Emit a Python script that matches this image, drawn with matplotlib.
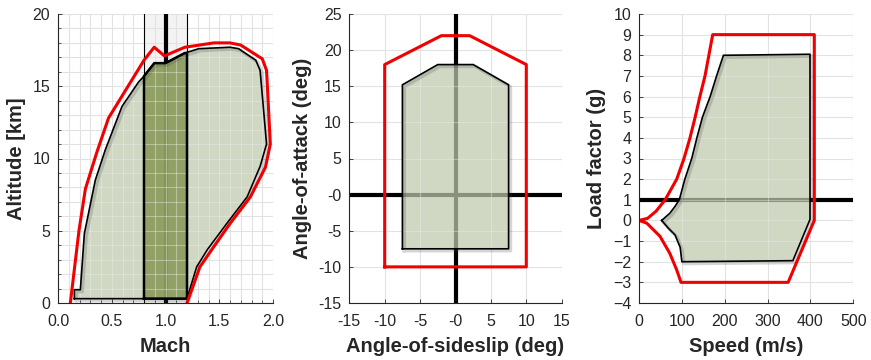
import numpy as np
import matplotlib
matplotlib.use("Agg")
import matplotlib.pyplot as plt
import matplotlib.patheffects as pe
from matplotlib.patches import Polygon

plt.rcParams['font.family'] = ['Liberation Sans', 'DejaVu Sans']

# ---------------- data ----------------
# Panel 1: Mach-altitude envelope
red1_mach = [0.115, 0.195, 0.255, 0.36, 0.47, 0.80, 0.895, 0.99, 1.18, 1.45, 1.60, 1.70,
             1.90, 1.94, 1.975, 1.93, 1.79, 1.60, 1.45, 1.32, 1.20]
red1_alt = [0.0, 5.0, 7.9, 10.4, 12.8, 16.8, 17.7, 17.1, 17.7, 18.0, 18.0, 17.85,
            16.9, 16.1, 11.0, 9.4, 7.35, 5.5, 3.9, 2.5, 0.0]
env1_mach = [0.152, 0.152, 0.208, 0.245, 0.347, 0.44, 0.595, 0.75, 0.80, 0.896, 1.0, 1.18,
             1.31, 1.60, 1.68, 1.84, 1.88, 1.94, 1.88, 1.76, 1.57, 1.39, 1.29, 1.20]
env1_alt = [0.3, 0.92, 0.92, 4.8, 8.5, 10.6, 13.6, 15.3, 15.7, 16.6, 16.6, 17.3,
            17.6, 17.7, 17.6, 16.8, 16.1, 11.0, 9.45, 7.35, 5.5, 3.7, 2.5, 0.3]
band_mach = [0.80, 0.896, 1.0, 1.18, 1.20]
band_alt = [15.7, 16.6, 16.6, 17.3, 17.3]
band_bottom = 0.3
transonic_lo, transonic_hi, mach_one = 0.8, 1.2, 1.0

# Panel 2: alpha-beta envelope
red2_beta = [-10, -10, -2, 2, 10, 10]
red2_alpha = [-10, 18, 22, 22, 18, -10]
env2_beta = [-7.5, -7.5, -2.5, 2.5, 7.5, 7.5]
env2_alpha = [-7.5, 15.2, 18, 18, 15.2, -7.5]
ab_ticks = [-15, -10, -5, 0, 5, 10, 15]
ab_xlabels = ['-15', '-10', '-5', '-0', '5', '10', '15']
aa_ticks = [-15, -10, -5, 0, 5, 10, 15, 20, 25]
aa_labels = ['-15', '-10', '-5', '-0', '5', '10', '15', '20', '25']

# Panel 3: V-n diagram
red3_speed = [0, 20, 40, 61, 88, 105, 119, 131, 142, 154, 163, 172, 409, 409, 348, 98, 88, 72, 49, 18, 0]
red3_load = [0, 0.1, 0.45, 1.0, 2.0, 3.0, 4.0, 5.0, 6.0, 7.0, 8.0, 9.0, 9.0, 0.0, -3.0, -3.0, -2.4, -1.6, -0.77, -0.13, 0]
env3_speed = [53, 72, 84, 94, 107, 123, 135, 148, 166, 181, 197, 399, 399, 359, 100, 96, 84, 68, 53]
env3_load = [0, 0.35, 0.68, 1.0, 2.0, 3.0, 4.0, 5.0, 6.0, 7.0, 8.0, 8.05, 0.05, -1.95, -2.0, -1.3, -0.7, -0.37, 0]

# ---------------- style ----------------
RED = '#f00000'
FILL = '#bfcaae'
BAND = '#83954f'
GRID = '#e2e2e2'
TXT = '#262626'
shadow = [pe.SimpleLineShadow(offset=(1.4, -1.4), shadow_color='#444444', alpha=0.22, linewidth=2.4),
          pe.Normal()]

fig = plt.figure(figsize=(8.71, 3.6), dpi=100)
ax1 = fig.add_axes([58 / 871, 57 / 360, 215 / 871, 289 / 360])
ax2 = fig.add_axes([349.3 / 871, 57 / 360, 212.4 / 871, 289 / 360])
ax3 = fig.add_axes([639 / 871, 57 / 360, 214.3 / 871, 289 / 360])


def style(ax, minor=False):
    for s in ['top', 'right']:
        ax.spines[s].set_visible(False)
    for s in ['left', 'bottom']:
        ax.spines[s].set_color(TXT)
        ax.spines[s].set_linewidth(0.8)
        ax.spines[s].set_zorder(10)
    ax.tick_params(direction='in', length=3, width=0.6, colors=TXT, labelsize=11.5,
                   top=False, right=False)
    ax.tick_params(axis='x', pad=8)
    ax.tick_params(axis='y', pad=5.5)
    ax.tick_params(which='minor', direction='in', length=2, width=0.5, colors=TXT)
    ax.set_axisbelow(True)
    ax.grid(True, which='major', color=GRID, lw=0.8, zorder=0)
    if minor:
        ax.grid(True, which='minor', color=GRID, lw=0.8, zorder=0)


def overlay_grid(ax, xs, ys, patch):
    for x in xs:
        l = ax.axvline(x, color='#ffffff', lw=0.8, alpha=0.35, zorder=3.6)
        l.set_clip_path(patch)
    for y in ys:
        l = ax.axhline(y, color='#ffffff', lw=0.8, alpha=0.35, zorder=3.6)
        l.set_clip_path(patch)


lab = dict(fontsize=14.5, fontweight='bold', color=TXT)
XLP = 5.5

# ---------- Panel 1 ----------
ax = ax1
style(ax, minor=True)
ax.set_xlim(0, 2)
ax.set_ylim(0, 20)
ax.set_xticks(np.arange(0, 2.01, 0.5))
ax.set_xticklabels(['0.0', '0.5', '1.0', '1.5', '2.0'])
ax.set_xticks(np.arange(0, 2.01, 0.1), minor=True)
ax.set_yticks([0, 5, 10, 15, 20])
ax.set_yticks(np.arange(0, 20.1, 1), minor=True)
ax.fill_between([transonic_lo, transonic_hi], [0, 0], [20, 20], color='#f3f3f3', zorder=0.5, lw=0)
ax.axvline(transonic_lo, color='k', lw=0.8, zorder=2)
ax.axvline(transonic_hi, color='k', lw=0.8, zorder=2)
ax.axvline(mach_one, color='k', lw=3, zorder=2)
p1 = Polygon(np.column_stack([env1_mach, env1_alt]), closed=True, facecolor=FILL, alpha=0.72,
             edgecolor='none', zorder=3)
ax.add_patch(p1)
bx = [transonic_lo] + band_mach + [transonic_hi, transonic_lo]
by = [band_bottom] + band_alt + [band_bottom, band_bottom]
p1b = Polygon(np.column_stack([bx, by]), closed=True, facecolor=BAND, alpha=0.8,
              edgecolor='none', zorder=3.2)
ax.add_patch(p1b)
overlay_grid(ax, np.arange(0.1, 2.0, 0.1), np.arange(1, 20, 1), p1)
ex = env1_mach + [env1_mach[0]]
ey = env1_alt + [env1_alt[0]]
ax.plot(ex, ey, color='k', lw=1.2, zorder=5, path_effects=shadow)
ax.plot(bx, by, color='k', lw=1.8, zorder=5.1)
ax.plot(red1_mach, red1_alt, color=RED, lw=2.2, zorder=6)
ax.set_xlabel('Mach', labelpad=XLP, **lab)
ax.set_ylabel('Altitude [km]', labelpad=5, **lab)

# ---------- Panel 2 ----------
ax = ax2
style(ax)
ax.set_xlim(-15, 15)
ax.set_ylim(-15, 25)
ax.set_xticks(ab_ticks)
ax.set_xticklabels(ab_xlabels)
ax.set_yticks(aa_ticks)
ax.set_yticklabels(aa_labels)
ax.axvline(0, color='k', lw=3, zorder=2)
ax.axhline(0, color='k', lw=3, zorder=2)
p2 = Polygon(np.column_stack([env2_beta, env2_alpha]), closed=True, facecolor=FILL, alpha=0.72,
             edgecolor='none', zorder=3)
ax.add_patch(p2)
overlay_grid(ax, [-5, 5], [-5, 5, 10, 15], p2)
ax.plot(env2_beta + [env2_beta[0]], env2_alpha + [env2_alpha[0]], color='k', lw=1.2, zorder=5,
        path_effects=shadow)
ax.plot(red2_beta + [red2_beta[0]], red2_alpha + [red2_alpha[0]], color=RED, lw=2.2, zorder=6)
ax.set_xlabel('Angle-of-sideslip (deg)', labelpad=XLP, **lab)
ax.set_ylabel('Angle-of-attack (deg)', labelpad=5, **lab)

# ---------- Panel 3 ----------
ax = ax3
style(ax)
ax.set_xlim(0, 500)
ax.set_ylim(-4, 10)
ax.set_xticks(np.arange(0, 501, 100))
ax.set_yticks(np.arange(-4, 11, 1))
ax.axhline(1, color='k', lw=3, zorder=2)
p3 = Polygon(np.column_stack([env3_speed, env3_load]), closed=True, facecolor=FILL, alpha=0.72,
             edgecolor='none', zorder=3)
ax.add_patch(p3)
overlay_grid(ax, [100, 200, 300], np.arange(-1, 9, 1), p3)
ax.plot(env3_speed, env3_load, color='k', lw=1.2, zorder=5, path_effects=shadow)
ax.plot(red3_speed, red3_load, color=RED, lw=2.2, zorder=6)
ax.set_xlabel('Speed (m/s)', labelpad=XLP, **lab)
ax.set_ylabel('Load factor (g)', labelpad=5, **lab)

fig.savefig('out.png', dpi=100)
